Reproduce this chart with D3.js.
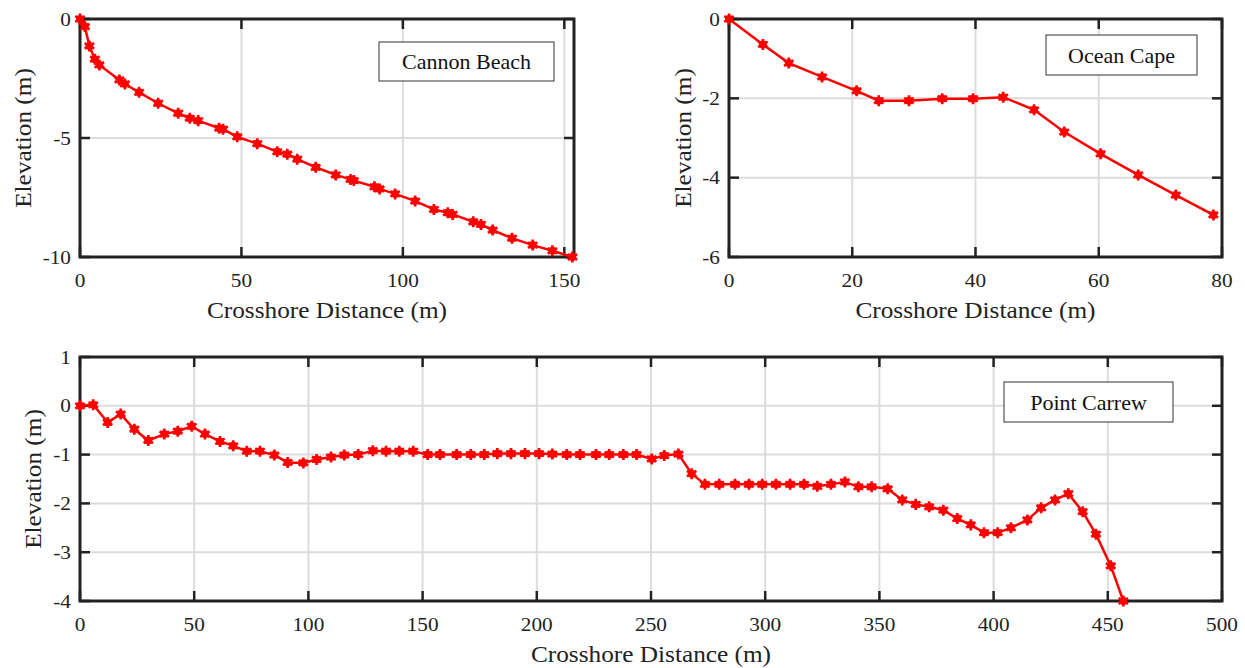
<!DOCTYPE html>
<html>
<head>
<meta charset="utf-8">
<script src="https://cdn.jsdelivr.net/npm/d3@7"></script>
<style>
  body { margin: 0; background: #fff; }
</style>
</head>
<body>
<script>
// Cannon Beach profile
var cannonX = [0, 1.5, 2.9, 4.6, 6.0, 12.2, 13.9, 18.3, 24.2, 30.4, 34.0, 36.6, 43.1, 44.3, 48.7, 54.9, 61.1, 64.2, 67.3, 73.0,
  79.2, 83.8, 84.8, 91.2, 92.8, 97.6, 103.8, 109.6, 113.9, 115.4, 121.8, 124.2, 127.8, 133.8, 140.2, 146.3, 152.5];
var cannonY = [0, -0.32, -1.13, -1.69, -1.93, -2.56, -2.73, -3.08, -3.54, -3.96, -4.17, -4.27, -4.59, -4.63, -4.95, -5.24, -5.58, -5.68, -5.89, -6.23,
  -6.55, -6.74, -6.79, -7.05, -7.14, -7.35, -7.65, -8.0, -8.14, -8.21, -8.52, -8.63, -8.87, -9.21, -9.50, -9.74, -10.0];

// Ocean Cape profile
var oceanX = [0, 5.5, 9.7, 15.1, 20.7, 24.3, 29.2, 34.6, 39.6, 44.5, 49.5, 54.4, 60.3, 66.4, 72.5, 78.6];
var oceanY = [0, -0.64, -1.11, -1.46, -1.81, -2.06, -2.06, -2.01, -2.01, -1.97, -2.29, -2.85, -3.40, -3.93, -4.44, -4.94];

// Point Carrew profile
var carrewX = [0, 5.8, 12.1, 17.8, 23.8, 29.9, 36.9, 42.8, 48.9, 54.7, 61.3, 67.1, 73.0, 78.8, 85.1, 90.9, 97.8, 103.6, 109.9, 115.7,
  121.8, 128.2, 134.0, 139.8, 145.9, 152.2, 157.6, 164.9, 171.1, 177.0, 182.7, 188.7, 194.8, 201.0, 206.8, 213.1, 218.9, 225.9, 231.7, 237.9,
  243.7, 250.3, 255.8, 262.0, 267.8, 273.6, 279.9, 286.8, 292.9, 298.7, 304.7, 310.9, 317.0, 322.8, 328.8, 334.9, 340.8, 346.6, 353.6, 360.0,
  365.9, 371.8, 378.0, 384.1, 390.0, 395.8, 401.8, 407.6, 414.8, 420.8, 426.9, 432.7, 439.0, 444.8, 451.3, 456.8];
var carrewY = [0, 0.02, -0.34, -0.17, -0.48, -0.71, -0.58, -0.52, -0.42, -0.58, -0.73, -0.82, -0.93, -0.93, -1.01, -1.16, -1.17, -1.10, -1.05, -1.01,
  -1.0, -0.92, -0.93, -0.93, -0.93, -1.0, -1.0, -1.0, -1.0, -1.0, -0.98, -0.98, -0.98, -0.98, -0.99, -1.0, -1.0, -1.0, -1.0, -1.0,
  -1.0, -1.09, -1.02, -0.99, -1.39, -1.61, -1.61, -1.61, -1.61, -1.61, -1.61, -1.61, -1.61, -1.65, -1.61, -1.56, -1.66, -1.66, -1.70, -1.93,
  -2.02, -2.07, -2.14, -2.31, -2.44, -2.60, -2.60, -2.50, -2.34, -2.09, -1.93, -1.80, -2.17, -2.63, -3.28, -4.0];

var cannonXTicks = [0, 50, 100, 150], cannonYTicks = [0, -5, -10];
var oceanXTicks = [0, 20, 40, 60, 80], oceanYTicks = [0, -2, -4, -6];
var carrewXTicks = [0, 50, 100, 150, 200, 250, 300, 350, 400, 450, 500], carrewYTicks = [1, 0, -1, -2, -3, -4];

var width = 1245, height = 668;
var serif = '"Liberation Serif", "Times New Roman", "DejaVu Serif", serif';
var svg = d3.select('body').append('svg')
  .attr('width', width)
  .attr('height', height)
  .attr('font-family', serif)
  .style('font-family', serif);

function drawPanel(opt) {
  var x = d3.scaleLinear().domain(opt.xDomain).range([opt.left, opt.right]);
  var y = d3.scaleLinear().domain(opt.yDomain).range([opt.bottom, opt.top]);
  var g = svg.append('g');

  // grid
  g.selectAll('.gx').data(opt.xTicks).enter().append('line')
    .attr('x1', function(d) { return x(d); }).attr('x2', function(d) { return x(d); })
    .attr('y1', opt.top).attr('y2', opt.bottom)
    .attr('stroke', '#dcdcdc').attr('stroke-width', 2);
  g.selectAll('.gy').data(opt.yTicks).enter().append('line')
    .attr('y1', function(d) { return y(d); }).attr('y2', function(d) { return y(d); })
    .attr('x1', opt.left).attr('x2', opt.right)
    .attr('stroke', '#dcdcdc').attr('stroke-width', 2);

  // inward ticks on all four sides
  var tl = 10;
  var ticks = g.append('g').attr('stroke', '#222').attr('stroke-width', 2.5);
  opt.xTicks.forEach(function(d) {
    ticks.append('line').attr('x1', x(d)).attr('x2', x(d)).attr('y1', opt.bottom).attr('y2', opt.bottom - tl);
    ticks.append('line').attr('x1', x(d)).attr('x2', x(d)).attr('y1', opt.top).attr('y2', opt.top + tl);
  });
  opt.yTicks.forEach(function(d) {
    ticks.append('line').attr('y1', y(d)).attr('y2', y(d)).attr('x1', opt.left).attr('x2', opt.left + tl);
    ticks.append('line').attr('y1', y(d)).attr('y2', y(d)).attr('x1', opt.right).attr('x2', opt.right - tl);
  });

  // box
  g.append('rect')
    .attr('x', opt.left).attr('y', opt.top)
    .attr('width', opt.right - opt.left).attr('height', opt.bottom - opt.top)
    .attr('fill', 'none').attr('stroke', '#222').attr('stroke-width', 3);

  // tick labels (slightly wide, like the source figure)
  g.selectAll('.tx').data(opt.xTicks).enter().append('text')
    .attr('transform', function(d) { return 'translate(' + x(d) + ',' + (opt.bottom + 30) + ') scale(1.12,1)'; })
    .attr('fill', '#222')
    .style('text-anchor', 'middle')
    .style('font-size', '19px')
    .text(function(d) { return d; });
  g.selectAll('.ty').data(opt.yTicks).enter().append('text')
    .attr('transform', function(d) { return 'translate(' + (opt.left - 9) + ',' + y(d) + ') scale(1.12,1)'; })
    .attr('dy', '.35em')
    .attr('fill', '#222')
    .style('text-anchor', 'end')
    .style('font-size', '19px')
    .text(function(d) { return d; });

  // axis labels
  g.append('text')
    .attr('transform', 'translate(' + (opt.left + opt.right) / 2 + ',' + (opt.bottom + 61) + ') scale(1.1,1)')
    .attr('fill', '#222')
    .style('text-anchor', 'middle')
    .style('font-size', '23px')
    .text('Crosshore Distance (m)');
  g.append('text')
    .attr('transform', 'translate(' + opt.yLabelX + ',' + (opt.top + opt.bottom) / 2 + ') rotate(-90) scale(1.1,1)')
    .attr('fill', '#222')
    .style('text-anchor', 'middle')
    .style('font-size', '23px')
    .text('Elevation (m)');

  // data
  var pts = opt.xs.map(function(v, i) { return [v, opt.ys[i]]; });
  var line = d3.line().x(function(d) { return x(d[0]); }).y(function(d) { return y(d[1]); });
  g.append('path')
    .datum(pts)
    .attr('d', line)
    .attr('fill', 'none').attr('stroke', '#f00').attr('stroke-width', 2.5);

  var star = d3.symbol().type(d3.symbolAsterisk).size(85);
  var m = g.selectAll('.pt').data(pts).enter().append('g')
    .attr('transform', function(d) { return 'translate(' + x(d[0]) + ',' + y(d[1]) + ')'; });
  m.append('circle').attr('r', 4).attr('fill', '#f00');
  m.append('path').attr('d', star).attr('stroke', '#f00').attr('stroke-width', 2.6).attr('fill', 'none');

  // legend-like label box
  g.append('rect')
    .attr('x', opt.box[0]).attr('y', opt.box[1])
    .attr('width', opt.box[2]).attr('height', opt.box[3])
    .attr('fill', '#fff').attr('stroke', '#333').attr('stroke-width', 1);
  g.append('text')
    .attr('x', opt.box[0] + opt.box[2] / 2)
    .attr('y', opt.box[1] + opt.box[3] / 2)
    .attr('dy', '.35em')
    .attr('fill', '#111')
    .style('text-anchor', 'middle')
    .style('font-size', '22px')
    .text(opt.name);
}

drawPanel({
  xs: cannonX, ys: cannonY, name: 'Cannon Beach',
  xDomain: [0, 153], yDomain: [-10, 0],
  xTicks: cannonXTicks, yTicks: cannonYTicks,
  left: 80, right: 574, top: 19, bottom: 257, yLabelX: 31,
  box: [379, 42, 175, 39]
});

drawPanel({
  xs: oceanX, ys: oceanY, name: 'Ocean Cape',
  xDomain: [0, 80], yDomain: [-6, 0],
  xTicks: oceanXTicks, yTicks: oceanYTicks,
  left: 729, right: 1222, top: 19, bottom: 257, yLabelX: 691,
  box: [1046, 35, 151, 40]
});

drawPanel({
  xs: carrewX, ys: carrewY, name: 'Point Carrew',
  xDomain: [0, 500], yDomain: [-4, 1],
  xTicks: carrewXTicks, yTicks: carrewYTicks,
  left: 80, right: 1222, top: 357, bottom: 601, yLabelX: 41,
  box: [1004, 382, 169, 40]
});
</script>
</body>
</html>
